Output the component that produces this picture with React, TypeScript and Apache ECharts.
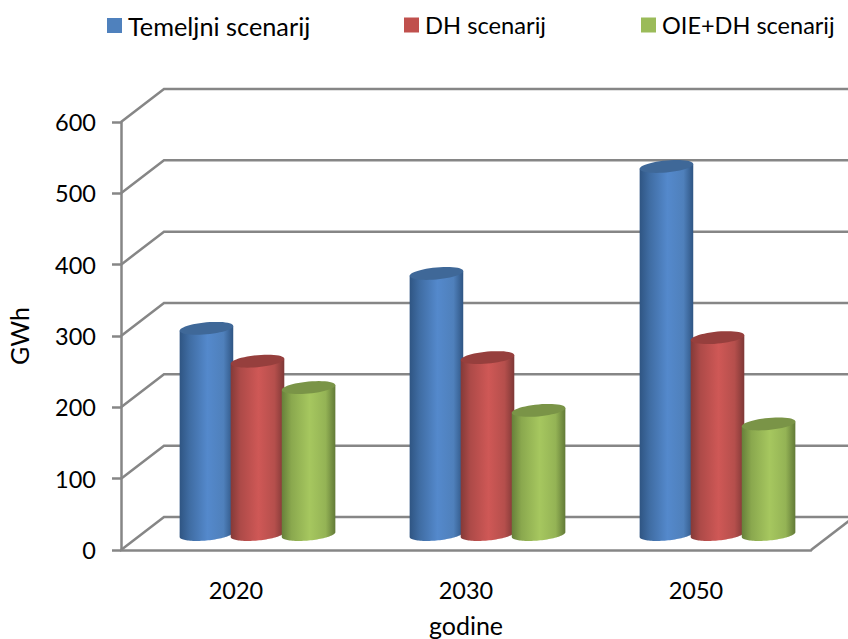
import React, { useEffect, useRef } from "react";
import * as echarts from "echarts";

const categories = ["2020", "2030", "2050"];
const yTicks = [0, 100, 200, 300, 400, 500, 600];
const temeljni = [289, 366, 516];
const dh = [243, 248, 276];
const oieDh = [206, 174, 155];
const seriesNames = ["Temeljni scenarij", "DH scenarij", "OIE+DH scenarij"];
const legendLefts = [107, 404, 641];
const legendFontSizes = [25.3, 23.7, 23.5];
const legendColors = ["#4F81BD", "#C0504D", "#9BBB59"];
const bodyStops = [
  ["#2f5583", "#3f6ca2", "#5489cc", "#4f80bb", "#2f5583"],
  ["#843a38", "#ad4a48", "#cf5856", "#b54f4c", "#7e3836"],
  ["#67803a", "#8aa84e", "#a6c75f", "#94b355", "#627a37"],
];
const topColors = ["#3f6898", "#963f3d", "#7a9447"];

const AXIS = "#868686";
const FONT = "Lato";
const DX = 43;
const DY = -33;
const BAR_STEP = 0.222;
const BAR_WIDTH = 0.233;
const RY = 6;
const TILT = 0.09;
const PLANE_X = 21.5;
const PLANE_Y = -15.5;

function ringPoints(cx: number, cy: number, rx: number, from: number, to: number, n = 48) {
  const pts: number[][] = [];
  for (let i = 0; i <= n; i++) {
    const t = from + ((to - from) * i) / n;
    const px = rx * Math.cos(t);
    const py = RY * Math.sin(t);
    pts.push([cx + px, cy + py - px * TILT]);
  }
  return pts;
}

function cylinder(index: number) {
  return (params: any, api: any) => {
    const v = api.value(1);
    const cat = api.value(0);
    const band = api.size([1, 0])[0];
    const rx = (band * BAR_WIDTH) / 2;
    const top = api.coord([cat, v]);
    const base = api.coord([cat, 0]);
    const cx = top[0] + PLANE_X + (index - 1) * band * BAR_STEP;
    const topY = top[1] + PLANE_Y;
    const baseY = base[1] + PLANE_Y;
    const bottomArc = ringPoints(cx, baseY, rx, 0, Math.PI);
    const upperEdge = [
      [cx - rx, topY + rx * TILT],
      [cx + rx, topY - rx * TILT],
    ];
    const stops = bodyStops[index];
    return {
      type: "group",
      children: [
        {
          type: "polygon",
          shape: { points: [...bottomArc, ...upperEdge] },
          style: {
            fill: new echarts.graphic.LinearGradient(0, 0, 1, 0, [
              { offset: 0, color: stops[0] },
              { offset: 0.18, color: stops[1] },
              { offset: 0.52, color: stops[2] },
              { offset: 0.82, color: stops[3] },
              { offset: 1, color: stops[4] },
            ]),
          },
        },
        {
          type: "polygon",
          shape: { points: ringPoints(cx, topY, rx, 0, Math.PI * 2) },
          style: { fill: topColors[index] },
        },
      ],
    };
  };
}

function wallLine(params: any, api: any) {
  const v = api.value(1);
  const y = api.coord([0, v])[1];
  const cs = params.coordSys;
  const left = cs.x;
  const right = cs.x + cs.width;
  const children: any[] = [
    {
      type: "polyline",
      shape: {
        points: [
          [left, y],
          [left + DX, y + DY],
          [right + DX, y + DY],
        ],
      },
      style: { stroke: AXIS, lineWidth: 2.5, fill: "none" },
    },
  ];
  if (v === 0) {
    children.push({
      type: "line",
      shape: { x1: right, y1: y, x2: right + DX, y2: y + DY },
      style: { stroke: AXIS, lineWidth: 2.5 },
    });
  }
  return { type: "group", children };
}

export default function App() {
  const ref = useRef<HTMLDivElement>(null);
  useEffect(() => {
    document.body.style.margin = "0";
    const chart = echarts.init(ref.current!, null, { renderer: "svg" });
    const values = [temeljni, dh, oieDh];
    chart.setOption({
      animation: false,
      backgroundColor: "#ffffff",
      textStyle: { fontFamily: FONT },
      color: legendColors,
      legend: seriesNames.map((name, i) => ({
        left: legendLefts[i],
        top: 13,
        padding: 0,
        itemWidth: 15,
        itemHeight: 15,
        icon: "rect",
        data: [name],
        textStyle: { fontFamily: FONT, fontSize: legendFontSizes[i], color: "#000", padding: [0, 0, 0, 1] },
      })),
      grid: { left: 121, right: 37, top: 122, bottom: 89, outerBoundsMode: "none" },
      xAxis: {
        type: "category",
        data: categories,
        name: "godine",
        nameLocation: "middle",
        nameGap: 62,
        nameTextStyle: { fontFamily: FONT, fontSize: 25, color: "#000" },
        axisLine: { lineStyle: { color: AXIS, width: 2.5 } },
        axisTick: { alignWithLabel: false, length: 9, lineStyle: { color: AXIS, width: 2.5 } },
        axisLabel: { fontFamily: FONT, fontSize: 23.5, color: "#000", margin: 28 },
        splitLine: { show: false },
      },
      yAxis: {
        type: "value",
        min: 0,
        max: 600,
        interval: 100,
        name: "GWh",
        nameLocation: "middle",
        nameGap: 90,
        nameTextStyle: { fontFamily: FONT, fontSize: 25, color: "#000" },
        axisLine: { show: true, lineStyle: { color: AXIS, width: 2.5 } },
        axisTick: { show: true, length: 9, lineStyle: { color: AXIS, width: 2.5 } },
        axisLabel: { fontFamily: FONT, fontSize: 23.5, color: "#000", margin: 25 },
        splitLine: { show: false },
      },
      series: [
        {
          type: "custom",
          name: "walls",
          clip: false,
          silent: true,
          z: 1,
          renderItem: wallLine,
          encode: { x: 0, y: 1 },
          data: yTicks.map((t) => [0, t]),
        },
        ...seriesNames.map((name, i) => ({
          type: "custom",
          name,
          clip: false,
          z: 3 + i,
          itemStyle: { color: legendColors[i] },
          renderItem: cylinder(i),
          encode: { x: 0, y: 1 },
          data: categories.map((_, c) => [c, values[i][c]]),
        })),
      ],
    });
    return () => chart.dispose();
  }, []);
  return <div ref={ref} style={{ width: 848, height: 639 }} />;
}
